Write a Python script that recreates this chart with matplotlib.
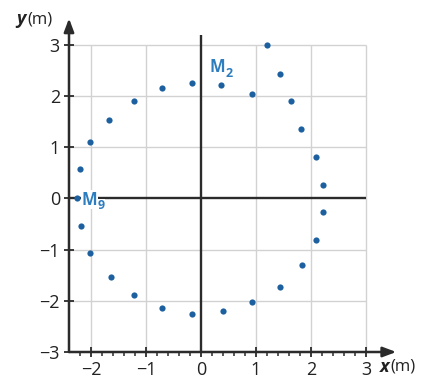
import matplotlib
matplotlib.use("Agg")
import matplotlib.pyplot as plt
import numpy as np

plt.rcParams['font.family'] = ['Open Sans', 'DejaVu Sans']

# Data
x_pts = [-2.20, -2.01, -1.67, -1.22, -0.71, -0.16, 0.37, 0.92, 1.20, 1.43, 1.64, 1.81,
         2.09, 2.22, 2.22, 2.09, 1.83, 1.44, 0.93, 0.40, -0.16, -0.71, -1.22, -1.64,
         -2.01, -2.19, -2.26]
y_pts = [0.58, 1.11, 1.54, 1.90, 2.16, 2.25, 2.22, 2.04, 3.00, 2.44, 1.90, 1.35,
         0.82, 0.27, -0.26, -0.82, -1.30, -1.72, -2.02, -2.20, -2.26, -2.14, -1.88, -1.54,
         -1.06, -0.54, 0.00]
x_ticks = [-2, -1, 0, 1, 2, 3]
y_ticks = [-3, -2, -1, 0, 1, 2, 3]
x_grid = [-2, -1, 1, 2, 3]
y_grid = [-2, -1, 1, 2, 3]

point_color = '#1c609f'
label_color = '#2d7dbf'
axis_color = '#2b2b2b'
grid_color = '#d2d2d2'

fig = plt.figure(figsize=(4.21, 3.78), dpi=100)
ax = fig.add_axes([69/421, 26/378, 330/421, 337.7/378])
xmin, xmax = -2.4, 3.6
ymin, ymax = -3.0, 3.6
ax.set_xlim(xmin, xmax)
ax.set_ylim(ymin, ymax)
for s in ax.spines.values():
    s.set_visible(False)

# grid
ax.vlines(x_grid, ymin, 3, colors=grid_color, lw=1.0, zorder=1)
ax.hlines(y_grid, xmin, 3, colors=grid_color, lw=1.0, zorder=1)
# coordinate axes through origin
ax.vlines([0], ymin, 3.2, colors=axis_color, lw=1.7, zorder=2)
ax.hlines([0], xmin, 3, colors=axis_color, lw=1.7, zorder=2)

# frame arrows
ax.annotate('', xy=(xmax - 0.05, ymin), xytext=(xmin, ymin), annotation_clip=False,
            arrowprops=dict(arrowstyle='-|>,head_length=0.8,head_width=0.3', color=axis_color,
                            lw=1.8, shrinkA=0, shrinkB=0), zorder=3)
ax.annotate('', xy=(xmin, ymax - 0.08), xytext=(xmin, ymin), annotation_clip=False,
            arrowprops=dict(arrowstyle='-|>,head_length=0.8,head_width=0.3', color=axis_color,
                            lw=1.8, shrinkA=0, shrinkB=0), zorder=3)

# ticks
ax.set_xticks(x_ticks)
ax.set_xticklabels([str(v).replace('-', '\u2212') for v in x_ticks])
ax.set_yticks(y_ticks)
ax.set_yticklabels([str(v).replace('-', '\u2212') for v in y_ticks])
ax.set_xticks(np.arange(-2.2, 3.01, 0.2), minor=True)
ax.tick_params(axis='both', which='major', direction='inout', length=7, width=1.3,
               color=axis_color, labelsize=13, labelcolor='#222222', pad=3)
ax.tick_params(axis='x', which='minor', direction='out', length=3, width=1.1, color=axis_color)
ax.tick_params(axis='y', which='minor', left=False)

# points
ax.scatter(x_pts, y_pts, s=20, color=point_color, zorder=5, clip_on=False, linewidths=0)

# labels
ax.text(0.44, 2.57, 'M', color=label_color, fontsize=12, fontweight='bold', ha='right', va='center')
ax.text(0.44, 2.45, '2', color=label_color, fontsize=9, fontweight='bold', ha='left', va='center')
ax.text(-1.88, -0.02, 'M', color=label_color, fontsize=12, fontweight='bold', ha='right', va='center',
        bbox=dict(facecolor='white', edgecolor='none', pad=0.5))
ax.text(-1.88, -0.14, '9', color=label_color, fontsize=9, fontweight='bold', ha='left', va='center',
        bbox=dict(facecolor='white', edgecolor='none', pad=0.3))

# axis titles
ax.text(-3.18, 3.50, 'y', fontsize=13, fontweight='bold', fontstyle='italic', ha='right', va='center',
        color='#222222', clip_on=False)
ax.text(-3.16, 3.50, '(m)', fontsize=12, ha='left', va='center', color='#222222', clip_on=False)
ax.text(3.43, -3.29, 'x', fontsize=13, fontweight='bold', fontstyle='italic', ha='right', va='center',
        color='#222222', clip_on=False)
ax.text(3.45, -3.29, '(m)', fontsize=12, ha='left', va='center', color='#222222', clip_on=False)

fig.savefig('out.png', dpi=100)
